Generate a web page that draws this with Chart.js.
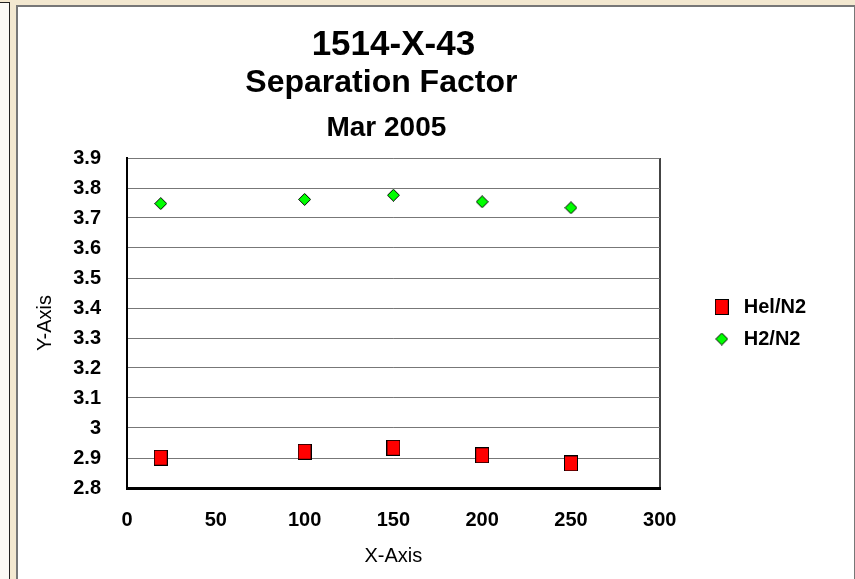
<!DOCTYPE html>
<html>
<head>
<meta charset="utf-8">
<script src="https://cdn.jsdelivr.net/npm/chart.js@4.4.1/dist/chart.umd.min.js"></script>
<style>
  html, body { margin: 0; padding: 0; background: #f3e8d0; overflow: hidden; }
  #strip { position: absolute; left: 0; top: 2px; width: 9px; height: 600px; background: #fbfaf6; border-right: 1px solid #222; border-top: 1px solid #222; }
  #frame { position: absolute; left: 16px; top: 5px; width: 836px; height: 600px; background: #fff; border: 2px solid #777; }
  #wrap { position: absolute; left: 0; top: 0; width: 855px; height: 579px; }
</style>
</head>
<body>
<div id="strip"></div>
<div id="frame"></div>
<div id="wrap"><canvas id="myChart"></canvas></div>
<script>
var xValues = [19, 100, 150, 200, 250];
var helN2 = [2.901, 2.921, 2.934, 2.909, 2.882];
var h2N2 = [3.748, 3.762, 3.776, 3.754, 3.734];
var seriesNames = ['Hel/N2', 'H2/N2'];
var titleLines = ['1514-X-43', 'Separation Factor', 'Mar 2005'];

function points(ys) {
    return xValues.map(function (x, i) { return {x: x, y: ys[i]}; });
}

// marker images (red square, green diamond)
var square = document.createElement('canvas');
square.width = 14; square.height = 16;
var sq = square.getContext('2d');
sq.fillStyle = '#ff0000';
sq.fillRect(0, 0, 14, 16);
sq.strokeStyle = '#000';
sq.lineWidth = 1;
sq.strokeRect(0.5, 0.5, 13, 15);

var diamond = document.createElement('canvas');
diamond.width = 13; diamond.height = 13;
var dm = diamond.getContext('2d');
dm.beginPath();
dm.moveTo(6.5, 0.5); dm.lineTo(12.5, 6.5); dm.lineTo(6.5, 12.5); dm.lineTo(0.5, 6.5); dm.closePath();
dm.fillStyle = '#00ff00';
dm.fill();
dm.strokeStyle = '#000';
dm.lineWidth = 1;
dm.stroke();

Chart.defaults.font.family = 'Arial, "Liberation Sans", sans-serif';
Chart.defaults.color = '#000';

// second and third title lines, each with its own size
var moreTitles = {
    id: 'moreTitles',
    afterDraw: function (chart) {
        var c = chart.ctx, a = chart.chartArea;
        var mid = (a.left + a.right) / 2;
        c.save();
        c.fillStyle = '#000';
        c.textAlign = 'center';
        c.textBaseline = 'middle';
        c.font = 'bold 32px Arial, "Liberation Sans", sans-serif';
        c.fillText(titleLines[1], mid - 12, 83);
        c.font = 'bold 28px Arial, "Liberation Sans", sans-serif';
        c.fillText(titleLines[2], mid - 7, 128);
        c.restore();
    }
};

var ctx = document.getElementById('myChart').getContext('2d');
var myChart = new Chart(ctx, {
    type: 'scatter',
    data: {
        datasets: [{
            label: seriesNames[0],
            data: points(helN2),
            pointStyle: square,
            backgroundColor: '#ff0000',
            borderColor: '#000'
        }, {
            label: seriesNames[1],
            data: points(h2N2),
            pointStyle: diamond,
            backgroundColor: '#00ff00',
            borderColor: '#000'
        }]
    },
    options: {
        responsive: true,
        maintainAspectRatio: false,
        animation: false,
        layout: { padding: { top: 10, left: 16, right: 39, bottom: 0 } },
        plugins: {
            title: {
                display: true,
                fullSize: false,
                text: titleLines[0],
                font: { size: 35, weight: 'bold', lineHeight: 1 },
                padding: { top: 18, bottom: 95 }
            },
            legend: {
                position: 'right',
                fullSize: false,
                labels: {
                    usePointStyle: true,
                    pointStyleWidth: 24,
                    padding: 12,
                    color: '#000',
                    font: { size: 20, weight: 'bold' }
                }
            },
            tooltip: { enabled: false }
        },
        scales: {
            x: {
                type: 'linear',
                min: 0,
                max: 300,
                ticks: { stepSize: 50, padding: 20, font: { size: 20, weight: 'bold' }, color: '#000' },
                grid: {
                    drawTicks: false,
                    lineWidth: 2,
                    color: function (c) { return c.tick && c.tick.value === 300 ? '#444' : 'rgba(0,0,0,0)'; }
                },
                border: { display: true, color: '#000', width: 3 },
                title: { display: true, text: 'X-Axis', font: { size: 20 }, color: '#000', padding: { top: 0, bottom: 11 } },
                afterFit: function (s) { s.height = 91; }
            },
            y: {
                min: 2.8,
                max: 3.9,
                ticks: {
                    stepSize: 0.1,
                    padding: 26,
                    font: { size: 20, weight: 'bold' },
                    color: '#000',
                    callback: function (v) { return String(Number(v.toFixed(1))); }
                },
                grid: { drawTicks: false, color: '#777', lineWidth: 1 },
                border: { display: true, color: '#000', width: 2 },
                title: { display: true, text: 'Y-Axis', font: { size: 20 }, color: '#000', padding: { top: 17, bottom: 0 } },
                afterFit: function (s) { s.width = 111; }
            },
            gap: {
                position: 'right',
                display: true,
                grid: { display: false, drawTicks: false },
                border: { display: false },
                ticks: { display: false },
                afterFit: function (s) { s.width = 38; }
            }
        }
    },
    plugins: [moreTitles]
});
</script>
</body>
</html>
